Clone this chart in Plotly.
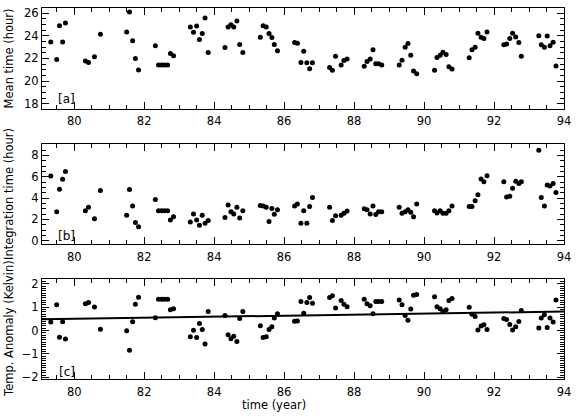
import plotly.graph_objects as go

years = [
    79.33, 79.50, 79.58, 79.67, 79.75,
    80.32, 80.41, 80.58, 80.75,
    81.50, 81.58, 81.67, 81.75, 81.84,
    82.32, 82.41, 82.50, 82.58, 82.67, 82.75, 82.84,
    83.32, 83.41, 83.50, 83.58, 83.66, 83.74, 83.83,
    84.31, 84.40, 84.48, 84.56, 84.65, 84.73, 84.82,
    85.32, 85.40, 85.49, 85.57, 85.65, 85.72, 85.81,
    86.30, 86.38, 86.48, 86.56, 86.65, 86.73, 86.81,
    87.30, 87.38, 87.47, 87.63, 87.71, 87.80,
    88.29, 88.37, 88.46, 88.54, 88.62, 88.70, 88.79,
    89.29, 89.37, 89.46, 89.54, 89.62, 89.70, 89.79,
    90.30, 90.37, 90.46, 90.54, 90.63, 90.71, 90.80,
    91.29, 91.37, 91.46, 91.54, 91.63, 91.71, 91.80,
    92.28, 92.36, 92.45, 92.53, 92.62, 92.71, 92.78,
    93.28, 93.35, 93.44, 93.52, 93.60, 93.69, 93.77,
]

mean_time = [
    23.46, 21.91, 24.89, 23.46, 25.12,
    21.77, 21.65, 22.15, 24.13,
    24.34, 26.09, 23.55, 22.00, 20.98,
    23.11, 21.42, 21.42, 21.42, 21.42, 22.44, 22.23,
    24.77, 24.31, 24.86, 23.66, 24.19, 25.56, 22.53,
    22.96, 24.77, 24.98, 24.77, 25.30, 23.23, 22.53,
    23.87, 24.89, 24.77, 24.19, 23.84, 23.23, 22.67,
    23.40, 23.34, 21.65, 22.64, 21.62, 21.09, 21.62,
    21.21, 20.95, 22.20, 21.42, 21.82, 21.94,
    21.30, 21.74, 21.94, 22.76, 21.53, 21.53, 21.42,
    21.42, 21.85, 22.99, 23.31, 22.29, 20.89, 20.66,
    20.95, 22.09, 22.29, 22.55, 22.35, 21.27, 21.07,
    22.06, 22.76, 22.99, 24.22, 23.87, 23.75, 24.34,
    23.20, 23.28, 23.75, 24.22, 23.90, 23.40, 22.20,
    24.01, 23.20, 22.99, 23.99, 23.11, 23.43, 21.33,
]

integration_time = [
    6.07, 2.72, 4.83, 5.76, 6.50,
    2.82, 3.13, 2.07, 4.71,
    2.38, 4.80, 3.25, 1.70, 1.30,
    3.87, 2.82, 2.82, 2.82, 2.82, 1.95, 2.26,
    1.76, 2.51, 1.95, 1.46, 2.38, 1.64, 1.89,
    2.17, 3.34, 2.72, 2.51, 3.13, 2.14, 2.82,
    3.31, 3.25, 3.13, 1.80, 3.03, 2.48, 2.91,
    3.25, 3.44, 1.64, 2.82, 1.64, 3.22, 4.06,
    3.13, 1.89, 2.35, 2.38, 2.57, 2.79,
    3.00, 2.91, 2.51, 3.25, 2.45, 2.72, 2.72,
    3.13, 2.57, 2.72, 2.91, 2.66, 2.26, 3.44,
    2.82, 2.60, 2.82, 2.57, 2.57, 2.82, 3.25,
    3.22, 3.22, 3.75, 4.30, 5.79, 5.54, 6.10,
    5.54, 4.09, 4.18, 4.92, 5.57, 5.36, 5.54,
    8.48, 4.06, 3.25, 5.23, 5.14, 5.36, 4.52,
]

temp_anomaly = [
    0.36, 1.10, -0.29, 0.37, -0.36,
    1.14, 1.20, 1.00, 0.05,
    -0.01, -0.84, 0.37, 1.12, 1.42,
    0.54, 1.33, 1.33, 1.33, 1.33, 0.89, 0.93,
    -0.27, 0.01, -0.30, 0.30, 0.04, -0.58, 0.81,
    0.64, -0.18, -0.35, -0.25, -0.47, 0.51, 0.81,
    0.20, -0.30, -0.27, 0.04, 0.16, 0.53, 0.72,
    0.40, 0.41, 1.24, 0.74, 1.20, 1.41, 1.16,
    1.41, 1.49, 0.96, 1.28, 1.12, 1.02,
    1.33, 1.14, 1.06, 0.72, 1.24, 1.24, 1.24,
    1.30, 1.10, 0.64, 0.44, 0.92, 1.51, 1.54,
    1.44, 1.02, 0.93, 0.81, 0.89, 1.28, 1.37,
    0.99, 0.69, 0.60, 0.02, 0.19, 0.25, 0.04,
    0.51, 0.47, 0.26, 0.02, 0.16, 0.39, 0.85,
    0.11, 0.53, 0.67, 0.13, 0.53, 0.36, 1.30,
]

trend_years = [79.08, 94.0]
trend_values = [0.48, 0.81]

x_ticks = [80, 82, 84, 86, 88, 90, 92, 94]
panel_labels = ["[a]", "[b]", "[c]"]
y_titles = ["Mean time (hour)", "Integration time (hour)", "Temp. Anomaly (Kelvin)"]

FONT = "DejaVu Sans"
fig = go.Figure()

marker = dict(color="black", size=5)
fig.add_trace(go.Scatter(x=years, y=mean_time, mode="markers", marker=marker,
                         xaxis="x", yaxis="y", showlegend=False))
fig.add_trace(go.Scatter(x=years, y=integration_time, mode="markers", marker=marker,
                         xaxis="x2", yaxis="y2", showlegend=False))
fig.add_trace(go.Scatter(x=years, y=temp_anomaly, mode="markers", marker=marker,
                         xaxis="x3", yaxis="y3", showlegend=False))
fig.add_trace(go.Scatter(x=trend_years, y=trend_values, mode="lines",
                         line=dict(color="black", width=2),
                         xaxis="x3", yaxis="y3", showlegend=False))

xr = [79.08, 94.0]
domains = [[0.729, 1.0], [0.3646, 0.6335], [0.0, 0.2708]]
yranges = [[17.58, 26.45], [-0.28, 9.07], [-2.07, 2.22]]
ydticks = [2, 2, 1]
yminor = [0.5, 0.5, 0.1]

tickfont = dict(family=FONT, size=11.5, color="black")

def xaxis_cfg(i):
    return dict(
        domain=[0, 1], range=xr, anchor="y" if i == 0 else f"y{i+1}",
        tickmode="array", tickvals=x_ticks, ticktext=[str(t) for t in x_ticks],
        ticks="inside", ticklen=7, tickwidth=1, tickcolor="black",
        minor=dict(dtick=0.5, tick0=80, ticks="inside", ticklen=4, tickcolor="black", tickwidth=1),
        showline=True, linecolor="black", linewidth=1, mirror="allticks",
        showgrid=False, zeroline=False, tickfont=tickfont, ticklabelstandoff=2,
    )

def yaxis_cfg(i):
    return dict(
        domain=domains[i], range=yranges[i], anchor="x" if i == 0 else f"x{i+1}",
        dtick=ydticks[i], tick0=0,
        ticks="inside", ticklen=7, tickwidth=1, tickcolor="black",
        minor=dict(dtick=yminor[i], ticks="inside", ticklen=4, tickcolor="black", tickwidth=1),
        showline=True, linecolor="black", linewidth=1, mirror="allticks",
        showgrid=False, zeroline=False, tickfont=tickfont,
    )

layout = dict(
    width=577, height=416,
    margin=dict(l=42, r=13, t=6, b=37),
    paper_bgcolor="white", plot_bgcolor="white",
    font=dict(family=FONT, color="black"),
)
for i in range(3):
    sx = "" if i == 0 else str(i + 1)
    layout["xaxis" + sx] = xaxis_cfg(i)
    layout["yaxis" + sx] = yaxis_cfg(i)

fig.update_layout(**layout)

label_y = [0.09, 0.08, 0.072]
for i in range(3):
    sx = "" if i == 0 else str(i + 1)
    fig.add_annotation(text=panel_labels[i], xref=f"x{sx} domain", yref=f"y{sx} domain",
                       x=0.047, y=label_y[i], xanchor="center", yanchor="middle",
                       showarrow=False, font=dict(family=FONT, size=12, color="black"))
    mid = (domains[i][0] + domains[i][1]) / 2
    fig.add_annotation(text=y_titles[i], xref="paper", yref="paper",
                       x=-0.063, y=mid, xanchor="center", yanchor="middle", textangle=-90,
                       showarrow=False, font=dict(family=FONT, size=11.5, color="black"))

fig.add_annotation(text="time (year)", xref="paper", yref="paper",
                   x=0.444, y=-0.07, xanchor="center", yanchor="middle",
                   showarrow=False, font=dict(family=FONT, size=11.5, color="black"))

fig.write_html("out.html")
